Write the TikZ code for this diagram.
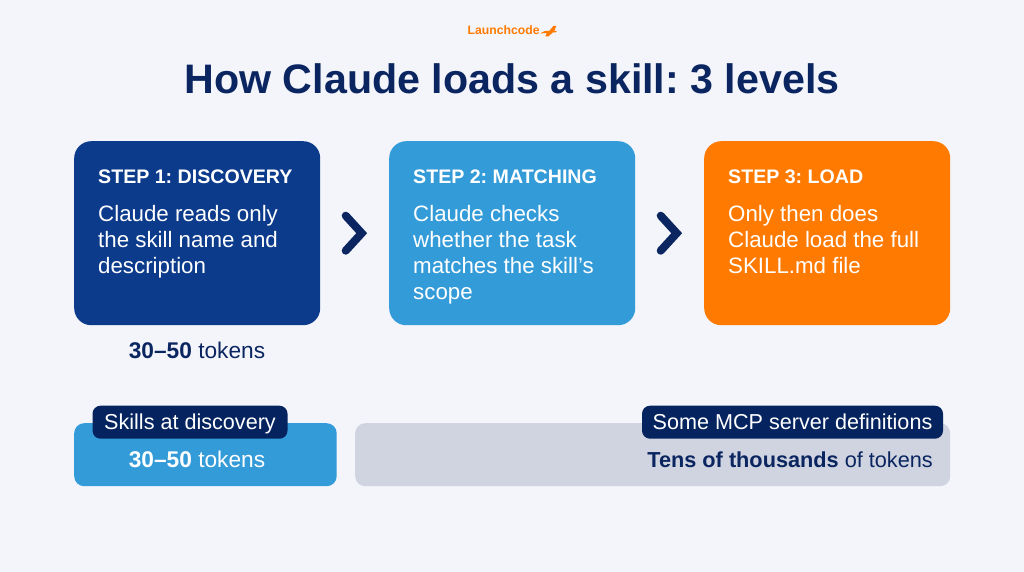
\documentclass[tikz,border=0pt]{standalone}
\usepackage{fontspec}
\setmainfont{Liberation Sans}
\usetikzlibrary{calc}
\definecolor{bgc}{HTML}{F3F5FB}
\definecolor{navy}{HTML}{0A2560}
\definecolor{tagnavy}{HTML}{05245F}
\definecolor{deep}{HTML}{0C3B8C}
\definecolor{sky}{HTML}{349BD9}
\definecolor{orng}{HTML}{FF7A00}
\definecolor{greyb}{HTML}{CFD4E0}
\tikzset{
  x=1pt,y=-1pt,
  card/.style={rounded corners=17pt,minimum width=246pt,minimum height=184pt,inner sep=0pt,anchor=north west},
  head/.style={anchor=base west,inner sep=0pt,text=white,font=\fontsize{19.6}{24}\selectfont\bfseries},
  body/.style={anchor=north west,inner sep=0pt,text=white,align=left,font=\fontsize{22.3}{25.8}\selectfont},
  tag/.style={fill=tagnavy,rounded corners=8pt,text=white,inner sep=0pt,minimum height=33pt,text height=18pt,text depth=4pt,font=\fontsize{21.6}{24}\selectfont},
  bar/.style={rounded corners=10pt,inner sep=0pt,minimum height=63pt,anchor=north west},
  chev/.style={draw=navy,line width=8pt,line cap=round,line join=miter},
  val/.style={inner sep=0pt,font=\fontsize{22.7}{25}\selectfont},
}
\begin{document}
\begin{tikzpicture}
\frenchspacing
\fill[bgc] (0,0) rectangle (1024,572);
\useasboundingbox (0,0) rectangle (1024,572);
% logo
\node[anchor=base west,inner sep=0pt,text=orng,font=\fontsize{12.2}{14}\selectfont\bfseries] (logo) at (467.5,34.5) {Launchcode};
\fill[orng] ($(logo.base east)+(0,-1)$) -- ++(5,-2.5) -- ++(4.5,0) -- ++(4,-5) -- ++(3,0) -- ++(-2,5) -- ++(2.5,0) -- ++(-1,1.5) -- ++(-3,0) -- ++(-4.5,4) -- ++(-3,0) -- ++(1.5,-3.5) -- cycle;
% title
\node[anchor=base,inner sep=0pt,text=navy,font=\fontsize{41.2}{50}\selectfont\bfseries] (title) at (512,94) {How Claude loads a skill: 3 levels};
% cards
\node[card,fill=deep] (s1) at (74,141) {};
\node[card,fill=sky] (s2) at (389,141) {};
\node[card,fill=orng] (s3) at (704,141) {};
\node[head] (h1) at (98,183) {STEP 1: DISCOVERY};
\node[head] (h2) at (413,183) {STEP 2: MATCHING};
\node[head] (h3) at (728,183) {STEP 3: LOAD};
\node[body] (b1) at (98,205.5) {Claude reads only\\the skill name and\\description};
\node[body] (b2) at (413,205.5) {Claude checks\\whether the task\\matches the skill’s\\scope};
\node[body] (b3) at (728,205.5) {Only then does\\Claude load the full\\SKILL.md file};
% chevrons
\coordinate (c1) at ($(s1.east)!0.5!(s2.west)$);
\coordinate (c2) at ($(s2.east)!0.5!(s3.west)$);
\draw[chev] ($(c1)+(-9,-17.5)$) -- ($(c1)+(7,0)$) -- ($(c1)+(-9,17.5)$);
\draw[chev] ($(c2)+(-9,-17.5)$) -- ($(c2)+(7,0)$) -- ($(c2)+(-9,17.5)$);
% tokens
\node[val,text=navy] (t1) at (197,350.5) {\textbf{30–50} tokens};
% bars
\node[bar,fill=sky,minimum width=262.5pt] (bl) at (74,423) {};
\node[bar,fill=greyb,minimum width=595pt] (br) at (355,423) {};
\node[tag,minimum width=195pt] (tl) at (190,422.2) {Skills at discovery};
\node[tag,minimum width=301pt] (tr) at (792.5,422.2) {Some MCP server definitions};
\node[val,text=white] (vl) at (197,459) {\textbf{30–50} tokens};
\node[val,text=navy,anchor=east] (vr) at (933,459.5) {\fontsize{21.7}{25}\selectfont\textbf{Tens of thousands} of tokens};
\end{tikzpicture}
\end{document}
